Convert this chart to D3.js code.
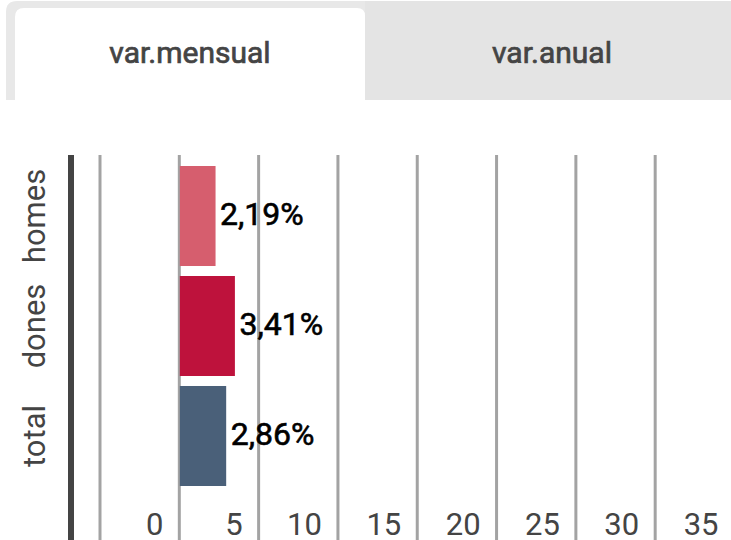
<!DOCTYPE html>
<html>
<head>
<meta charset="utf-8">
<script src="https://d3js.org/d3.v7.min.js"></script>
<style>
  body { margin: 0; background: #fff; font-family: Roboto, "Noto Sans", sans-serif; }
</style>
</head>
<body>
<svg id="chart" width="731" height="540"></svg>
<script>
const tabs = ['var.mensual', 'var.anual'];
const categories = ['homes', 'dones', 'total'];
const values = [2.19, 3.41, 2.86];
const colors = ['#d65e6e', '#be123c', '#4a6079'];
const ticks = [-5, 0, 5, 10, 15, 20, 25, 30, 35];

const svg = d3.select('svg#chart');
const fmt = v => d3.format('.2f')(v).replace('.', ',') + '%';

// tabs
const tabG = svg.append('g');
tabG.append('path')
  .attr('d', 'M6,100 V12 Q6,1 17,1 H740 V100 Z')
  .attr('fill', '#e8e8e8');
tabG.append('rect')
  .attr('x', 365).attr('y', 1).attr('width', 380).attr('height', 99)
  .attr('fill', '#e4e4e4');
tabG.append('path')
  .attr('d', 'M15,100 V17 Q15,8 24,8 H357 Q365,8 365,16 V100 Z')
  .attr('fill', '#fff');
tabG.selectAll('text').data(tabs).join('text')
  .attr('x', (d, i) => i === 0 ? 190 : 552)
  .attr('y', 52)
  .attr('dy', '0.35em')
  .attr('text-anchor', 'middle')
  .attr('font-size', 30)
  .attr('fill', '#444')
  .attr('stroke', '#444').attr('stroke-width', 0.7)
  .style('font-weight', 400)
  .text(d => d);

// scales
const x = d3.scaleLinear().domain([-5, 35]).range([100, 734.5]);
const y = d3.scaleBand().domain(categories).range([161, 491]).paddingInner(0.0909).paddingOuter(0.0455);

// gridlines
svg.append('g').selectAll('line').data(ticks).join('line')
  .attr('x1', d => x(d)).attr('x2', d => x(d))
  .attr('y1', 155).attr('y2', 545)
  .attr('stroke', '#a3a3a3').attr('stroke-width', 3);

// axis line
svg.append('line')
  .attr('x1', 71).attr('x2', 71).attr('y1', 155).attr('y2', 545)
  .attr('stroke', '#444').attr('stroke-width', 6);

// tick labels
svg.append('g').selectAll('text').data(ticks.filter(t => t >= 0)).join('text')
  .attr('x', d => x(d) - 16)
  .attr('y', 535)
  .attr('text-anchor', 'end')
  .attr('font-size', 31)
  .attr('fill', '#444')
  .text(d => d);

// bars
const rows = categories.map((c, i) => ({c, v: values[i], color: colors[i]}));
svg.append('g').selectAll('rect').data(rows).join('rect')
  .attr('x', x(0) + 0.5)
  .attr('y', d => y(d.c))
  .attr('width', d => x(d.v) - x(0) + 1)
  .attr('height', y.bandwidth())
  .attr('fill', d => d.color);

// value labels
svg.append('g').selectAll('text').data(rows).join('text')
  .attr('x', d => x(d.v) + 6)
  .attr('y', d => y(d.c) + y.bandwidth() / 2 - 2)
  .attr('dy', '0.35em')
  .attr('font-size', 32)
  .attr('fill', '#000')
  .style('font-weight', 400)
  .attr('stroke', '#000').attr('stroke-width', 0.6)
  .text(d => fmt(d.v));

// category labels
svg.append('g').selectAll('text').data(rows).join('text')
  .attr('transform', d => `translate(45,${y(d.c) + y.bandwidth() / 2}) rotate(-90)`)
  .attr('text-anchor', 'middle')
  .attr('font-size', 31)
  .attr('fill', '#444')
  .text(d => d.c);
</script>
</body>
</html>
